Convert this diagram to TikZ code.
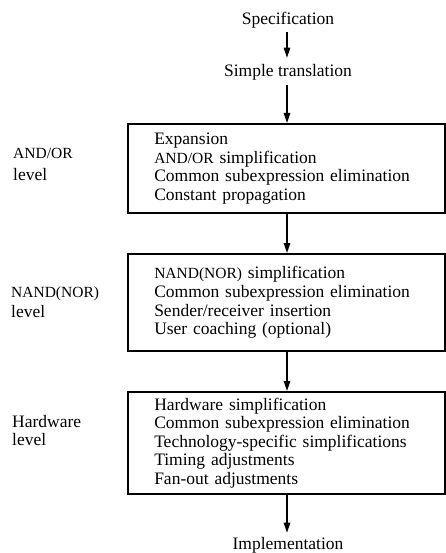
\documentclass[tikz,border=0pt]{standalone}
\usepackage{fontspec}
\setmainfont{Liberation Serif}
\usetikzlibrary{arrows.meta}
\newcommand{\capsx}[1]{{\fontsize{15.5pt}{18.6pt}\selectfont #1}}
\begin{document}
\begin{tikzpicture}[x=1pt,y=1pt,
  every node/.style={font=\fontsize{17.5pt}{18.6pt}\selectfont},
  stagebox/.style={draw, line width=2pt, anchor=north west, minimum width=316.5pt,
     text width=264pt, inner xsep=26pt, inner ysep=0pt, align=left},
  flow/.style={line width=1.3pt, -{Triangle[length=10pt,width=6.5pt]}},
  lvl/.style={anchor=north west, align=left, inner sep=0pt},
  term/.style={inner sep=0pt, anchor=base}]
\useasboundingbox (0,0) rectangle (445,-553);
\coordinate (axis) at (287,0);
\node[term] (spec) at (288,-25) {Specification};
\node[term] (simp) at (288,-77) {Simple translation};
\node[stagebox, minimum height=89pt] (b1) at (127,-123)
  {Expansion\\ \capsx{AND/OR} simplification\\ Common subexpression elimination\\ Constant propagation};
\node[stagebox, minimum height=97pt] (b2) at (127,-253)
  {\capsx{NAND(NOR)} simplification\\ Common subexpression elimination\\ Sender/receiver insertion\\ User coaching (optional)};
\node[stagebox, minimum height=102pt] (b3) at (127,-391)
  {Hardware simplification\\ Common subexpression elimination\\ Technology-specific simplifications\\ Timing adjustments\\ Fan-out adjustments};
\node[term] (impl) at (288,-549) {Implementation};
\node[lvl] (l1) at (13,-148) {\capsx{AND/OR}\\[3pt] level};
\node[lvl] (l2) at (11,-286.5) {\capsx{NAND(NOR)}\\[1pt] level};
\node[lvl] (l3) at (12,-415) {Hardware\\ level};
\draw[flow, shorten <=3pt, shorten >=7pt] (spec.south -| axis) -- (simp.north -| axis);
\draw[flow, shorten <=4pt] (simp.south -| axis) -- (b1.north -| axis);
\draw[flow] (b1.south -| axis) -- (b2.north -| axis);
\draw[flow] (b2.south -| axis) -- (b3.north -| axis);
\draw[flow, shorten >=4pt] (b3.south -| axis) -- (impl.north -| axis);
\end{tikzpicture}
\end{document}
